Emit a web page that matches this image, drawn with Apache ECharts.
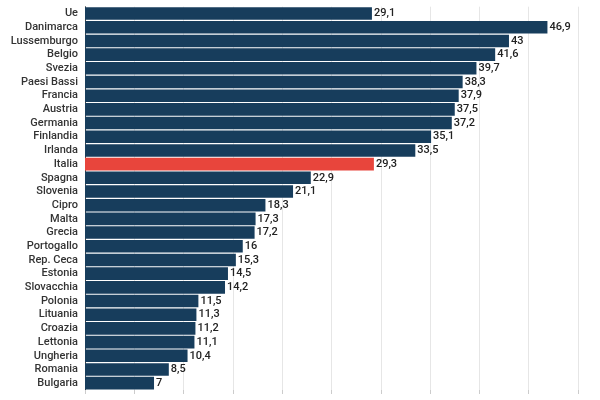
<!DOCTYPE html>
<html><head><meta charset="utf-8">
<script src="https://cdn.jsdelivr.net/npm/echarts@6/dist/echarts.min.js"></script>
<style>html,body{margin:0;padding:0;background:#fff}#c{width:600px;height:400px}</style>
</head><body><div id="c"></div>
<script>
const categories = ["Ue","Danimarca","Lussemburgo","Belgio","Svezia","Paesi Bassi","Francia","Austria","Germania","Finlandia","Irlanda","Italia","Spagna","Slovenia","Cipro","Malta","Grecia","Portogallo","Rep. Ceca","Estonia","Slovacchia","Polonia","Lituania","Croazia","Lettonia","Ungheria","Romania","Bulgaria"];
const values = [29.1,46.9,43,41.6,39.7,38.3,37.9,37.5,37.2,35.1,33.5,29.3,22.9,21.1,18.3,17.3,17.2,16,15.3,14.5,14.2,11.5,11.3,11.2,11.1,10.4,8.5,7];
const highlight = "Italia";

const chart = echarts.init(document.getElementById('c'));
chart.setOption({
  animation:false,
  grid:{left:85,right:22,top:6.7,bottom:10},
  xAxis:{type:'value',min:0,max:50,interval:5,
    axisLabel:{show:false},
    axisLine:{show:false},
    axisTick:{show:true,length:4,lineStyle:{color:'#ccc'}},
    splitLine:{lineStyle:{color:'#e6e6e6'}}},
  yAxis:{type:'category',data:categories,inverse:true,
    axisLine:{show:true,lineStyle:{color:'#444'}},
    axisTick:{show:false},
    axisLabel:{interval:0,fontFamily:'Roboto',fontSize:11,fontWeight:500,color:'#333',margin:7}},
  series:[{type:'bar',barCategoryGap:'8%',
    data:values.map((v,i)=>({value:v,itemStyle:{color:categories[i]===highlight?'#e8453c':'#173d5c'}})),
    label:{show:true,position:'right',distance:2,fontFamily:'Roboto',fontSize:11,fontWeight:500,color:'#222',
      formatter:p=>String(p.value).replace('.',',')}}]
});
</script></body></html>
